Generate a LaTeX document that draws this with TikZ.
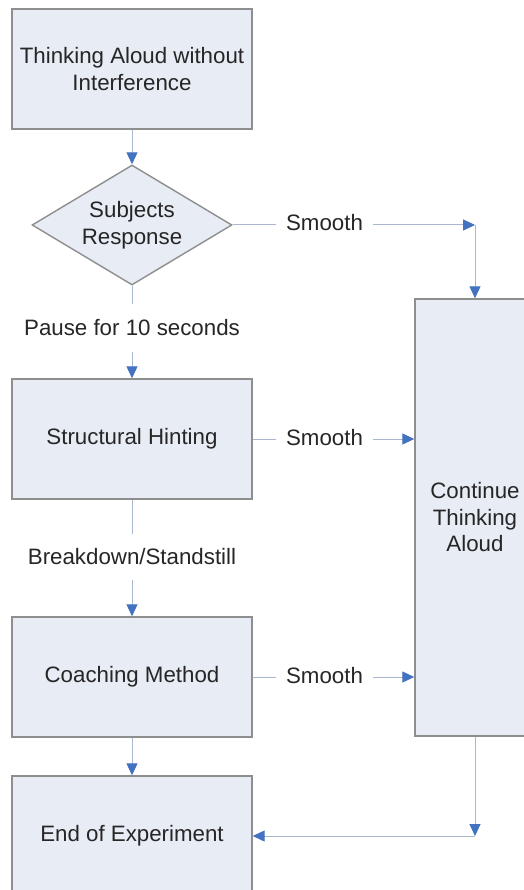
\documentclass[tikz,border=0pt]{standalone}
\usepackage{fontspec}
\setmainfont{Liberation Sans}
\usetikzlibrary{shapes.geometric,arrows.meta}
\definecolor{boxfill}{HTML}{E7ECF5}
\definecolor{boxline}{HTML}{8E8E8E}
\definecolor{connline}{HTML}{A8B6CE}
\definecolor{tipblue}{HTML}{4272C0}
\definecolor{txt}{HTML}{262626}
\begin{document}
\begin{tikzpicture}[x=1pt,y=-1pt,
  font=\fontsize{22.3}{26.5}\selectfont, text=txt,
  stepbox/.style={rectangle, draw=boxline, line width=1.4pt, fill=boxfill,
    minimum width=240pt, minimum height=120pt, inner sep=0pt, align=center},
  decision/.style={diamond, aspect=1.667, draw=boxline, line width=1.4pt, fill=boxfill,
    minimum width=200pt, minimum height=120pt, inner sep=0pt, align=center},
  lbl/.style={inner xsep=10pt, inner ysep=17pt},
  conn/.style={draw=connline, line width=1pt},
  arr/.style={conn, -{Triangle[length=12pt,width=11pt,fill=tipblue,color=tipblue]}}]
\useasboundingbox (0,0) rectangle (523,890);
\fill[white] (0,0) rectangle (523,890);
\node[stepbox] (top) at (132,69) {Thinking Aloud without\\Interference};
\node[decision] (dia) at (132,225) {Subjects\\Response};
\node[stepbox] (hint) at (132,439) {Structural Hinting};
\node[stepbox] (coach) at (132,677) {Coaching Method};
\node[stepbox] (end) at (132,836) {End of Experiment};
\node[rectangle, draw=boxline, line width=1.4pt, fill=boxfill,
  minimum width=120pt, minimum height=437pt, inner sep=0pt, align=center]
  (cont) at (475,517.5) {Continue\\Thinking\\Aloud};
% labels
\node[lbl] (s1) at (324.5,223) {Smooth};
\node[lbl] (s2) at (324.5,438) {Smooth};
\node[lbl] (s3) at (324.5,676) {Smooth};
\node[lbl,inner ysep=16pt] (pause) at (132,328) {Pause for 10 seconds};
\node[lbl,inner ysep=15pt] (brk) at (132,557) {Breakdown/Standstill};
\coordinate (c1) at (475,225);
\coordinate (c2) at (475,836);
% connectors
\draw[arr] (top) -- (dia);
\draw[conn] (dia.east) -- (s1.west |- dia.east);
\draw[arr] (s1.east |- c1) -- (c1);
\draw[arr] (c1) -- (cont.north);
\draw[conn] (dia.south) -- (pause.north);
\draw[arr] (pause.south) -- (hint.north);
\draw[conn] (hint.east) -- (s2.west |- hint.east);
\draw[arr] (s2.east |- hint.east) -- (cont.west |- hint.east);
\draw[conn] (hint.south) -- (brk.north);
\draw[arr] (brk.south) -- (coach.north);
\draw[conn] (coach.east) -- (s3.west |- coach.east);
\draw[arr] (s3.east |- coach.east) -- (cont.west |- coach.east);
\draw[arr] (coach.south) -- (end.north);
\draw[arr] (cont.south) -- (c2);
\draw[arr] (c2) -- (end.east);
\end{tikzpicture}
\end{document}
